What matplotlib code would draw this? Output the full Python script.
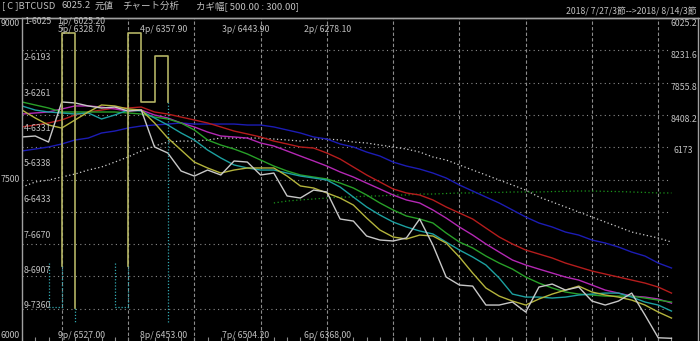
import numpy as np
import matplotlib.pyplot as plt
from matplotlib.lines import Line2D

# ---- data (prices, one value per bar) ----
price = [7895, 7904, 7848, 8220, 8211, 8183, 8164, 8173, 8136, 8145,
         7802, 7746, 7579, 7532, 7588, 7542, 7672, 7662, 7542, 7560,
         7347, 7328, 7402, 7384, 7133, 7114, 6975, 6938, 6929, 6957,
         7133, 6891, 6594, 6520, 6510, 6334, 6334, 6362, 6269, 6501,
         6529, 6473, 6501, 6371, 6334, 6371, 6445, 6241, 6030, 6025]
ma_yellow = [8145, 8071, 8006, 7978, 8053, 8127, 8192, 8183, 8155, 8145,
             8025, 7885, 7774, 7662, 7607, 7560, 7588, 7607, 7607, 7607,
             7532, 7440, 7421, 7375, 7328, 7263, 7142, 7031, 6966, 6947,
             6984, 6975, 6910, 6780, 6631, 6492, 6417, 6371, 6334, 6390,
             6436, 6473, 6510, 6455, 6427, 6408, 6380, 6334, 6269, 6213]
ma_teal = [8183, 8145, 8127, 8118, 8108, 8118, 8062, 8099, 8145, 8136,
           8071, 8006, 7932, 7867, 7774, 7700, 7635, 7607, 7588, 7588,
           7560, 7532, 7514, 7495, 7430, 7337, 7245, 7170, 7105, 7059,
           7022, 6994, 6919, 6845, 6780, 6706, 6585, 6436, 6408, 6408,
           6399, 6408, 6427, 6436, 6445, 6445, 6408, 6362, 6334, 6278]
ma_green = [8220, 8192, 8164, 8127, 8127, 8127, 8127, 8127, 8118, 8108,
            8080, 8062, 8025, 7960, 7867, 7820, 7783, 7737, 7681, 7625,
            7579, 7542, 7523, 7505, 7467, 7421, 7356, 7282, 7217, 7161,
            7133, 7096, 7003, 6919, 6864, 6789, 6724, 6668, 6594, 6538,
            6492, 6455, 6436, 6427, 6417, 6417, 6417, 6399, 6380, 6362]
ma_magenta = [8108, 8118, 8127, 8155, 8183, 8183, 8173, 8155, 8136, 8145,
              8099, 8071, 8025, 7988, 7941, 7904, 7895, 7885, 7839, 7811,
              7765, 7718, 7672, 7625, 7570, 7523, 7467, 7412, 7356, 7310,
              7282, 7217, 7142, 7059, 6984, 6901, 6826, 6752, 6706, 6668,
              6631, 6594, 6566, 6520, 6473, 6445, 6417, 6408, 6390, 6352]
ma_red = [7988, 8006, 8025, 8053, 8099, 8127, 8145, 8164, 8164, 8173,
          8127, 8108, 8080, 8053, 8025, 7988, 7950, 7923, 7895, 7857,
          7830, 7802, 7792, 7746, 7690, 7616, 7542, 7477, 7412, 7375,
          7356, 7310, 7245, 7189, 7133, 7049, 6966, 6901, 6845, 6808,
          6771, 6724, 6687, 6650, 6622, 6594, 6566, 6538, 6501, 6445]
ma_blue = [7765, 7783, 7802, 7830, 7867, 7885, 7932, 7950, 7978, 7997,
           8006, 8015, 8025, 8015, 8015, 8015, 8015, 8006, 8006, 7988,
           7960, 7932, 7895, 7876, 7830, 7802, 7755, 7718, 7662, 7625,
           7597, 7560, 7514, 7449, 7393, 7337, 7282, 7217, 7152, 7096,
           7059, 7012, 6984, 6938, 6910, 6873, 6826, 6789, 6724, 6678]
ma_long = [7430, 7477, 7495, 7523, 7551, 7588, 7616, 7662, 7709, 7765,
           7811, 7848, 7857, 7857, 7867, 7885, 7885, 7885, 7885, 7876,
           7867, 7857, 7876, 7876, 7867, 7848, 7839, 7820, 7802, 7783,
           7755, 7709, 7681, 7635, 7588, 7542, 7495, 7449, 7402, 7337,
           7291, 7245, 7198, 7152, 7105, 7059, 7012, 6984, 6957, 6919]
ma_green_dot = [np.nan] * 19 + [
    7282, 7300, 7310, 7319, 7328, 7337, 7337, 7347, 7347, 7356,
    7356, 7365, 7365, 7370, 7375, 7375, 7380, 7380, 7384, 7384,
    7384, 7388, 7390, 7393, 7393, 7390, 7388, 7384, 7380, 7375, 7375]

# kagi overlay (bar index, price)
kagi1_x = [3, 3, 4, 4]
kagi1_p = [6696, 8861, 8861, 6306]
kagi2_x = [8, 8, 9, 9, 10, 10, 11, 11]
kagi2_p = [6696, 8861, 8861, 8220, 8220, 8647, 8647, 8220]
kagi_dot = [([2, 2, 3, 3], [6724, 6315, 6315, 6696]),
            ([4, 4], [6306, 6176]),
            ([7, 7, 8, 8], [6724, 6315, 6315, 6696]),
            ([11, 11], [8220, 6176])]

left_labels = ["1-6025", "2-6193", "3-6261", "4-6331", "5-6338",
               "6-6433", "7-6670", "8-6907", "9-7360"]
right_labels = ["6025.2", "8231.6", "7855.8", "8408.2", "6173"]
top_labels = ["5p/ 6328.70", "4p/ 6357.90", "3p/ 6443.90", "2p/ 6278.10"]
bottom_labels = ["9p/ 6527.00", "8p/ 6453.00", "7p/ 6504.20", "6p/ 6368.00"]

W, H = 700, 341
GRAY = "#c0c0c0"
FONT = ["Liberation Sans Narrow", "Noto Sans CJK JP", "DejaVu Sans"]

fig = plt.figure(figsize=(W / 100, H / 100), dpi=100, facecolor="black")
ax = fig.add_axes([22 / W, 0, (698 - 22) / W, (H - 18) / H])
ax.set_facecolor("black")
ax.set_xlim(0, 51)
ax.set_ylim(6000, 9000)

# grid
ax.hlines(np.arange(6300, 9000, 300), 0, 48.7, color="#8c8c8c",
          lw=0.8, linestyle=(0, (1, 3)))
ax.vlines(np.arange(3, 49, 5), 6000, 9000, color="#8c8c8c",
          lw=0.8, linestyle=(0, (3, 2)))

idx = np.arange(len(price))
lw = 1.0
ax.plot(idx, ma_long, color="#d0d0d0", lw=0.9, linestyle=(0, (1, 2)))
ax.plot(idx, ma_green_dot, color="#1c961c", lw=0.9, linestyle=(0, (1, 2)))
ax.plot(idx, ma_blue, color="#1c1cb4", lw=lw)
ax.plot(idx, ma_red, color="#b41c1c", lw=lw)
ax.plot(idx, ma_magenta, color="#b428b4", lw=lw)
ax.plot(idx, ma_green, color="#28a028", lw=lw)
ax.plot(idx, ma_teal, color="#1ca0a0", lw=lw)
ax.plot(idx, ma_yellow, color="#b4b43c", lw=lw)
ax.plot(idx, price, color="#c8c8c8", lw=lw)

for kx, kp in kagi_dot:
    ax.plot(kx, kp, color="#30a8b0", lw=0.9, linestyle=(0, (1, 1.5)))
ax.plot(kagi1_x, kagi1_p, color="#b4b464", lw=1.2)
ax.plot(kagi2_x, kagi2_p, color="#b4b464", lw=1.2)

for s in ["left", "top", "right"]:
    ax.spines[s].set_color("#a0a0a0")
    ax.spines[s].set_linewidth(1.0)
ax.spines["bottom"].set_visible(False)
ax.set_yticks([])
ax.set_xticks([])
ax.set_xticks(idx, minor=True)
ax.tick_params(axis="x", which="minor", direction="in", length=3,
               color="#8c8c8c", width=0.8, labelbottom=False)

fig.add_artist(Line2D([0, 1], [1 - 18 / H, 1 - 18 / H], color="#a0a0a0",
                      lw=1.0, transform=fig.transFigure))


def txt(x, y, s, ha="left", size=6.3):
    fig.text(x / W, 1 - y / H, s, ha=ha, va="center", color=GRAY,
             fontsize=size, family=FONT)


# header
txt(2, 6, "[ C ]BTCUSD", size=6.8)
txt(62, 6, "6025.2", size=6.8)
txt(95, 6, "元値", size=6.8)
txt(122, 6, "チャート分析", size=6.8)
txt(196, 6, "カギ幅[ 500.00 : 300.00]", size=6.8)
txt(697, 12, "2018/ 7/27/3節-->2018/ 8/14/3節", ha="right")

# left axis
txt(20, 23, "9000", ha="right")
txt(20, 180, "7500", ha="right")
txt(20, 336, "6000", ha="right")
for k, lab in enumerate(left_labels):
    txt(24, 22 + k * 35.5, lab)

# kagi turning-point labels
txt(58, 21, "1p/ 6025.20")
for k, lab in enumerate(top_labels):
    txt(58 + k * 82, 29.5, lab)
for k, lab in enumerate(bottom_labels):
    txt(58 + k * 82, 335, lab)

# right scale
for k, lab in enumerate(right_labels[:4]):
    txt(697, 23 + k * 32, lab, ha="right")
txt(673, 150, right_labels[4])

fig.savefig("out.png", dpi=100, facecolor="black")
